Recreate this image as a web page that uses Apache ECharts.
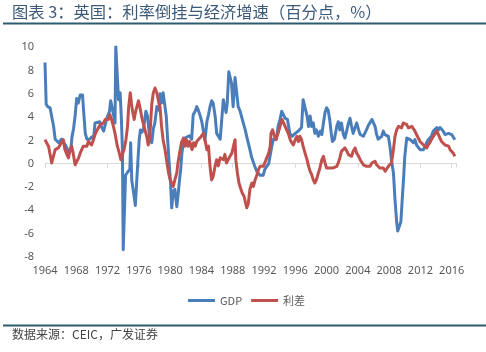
<!DOCTYPE html>
<html>
<head>
<meta charset="utf-8">
<script src="https://cdn.jsdelivr.net/npm/echarts@6/dist/echarts.min.js"></script>
<style>
html,body{margin:0;padding:0;background:#fff;}
#chart{width:486px;height:352px;}
</style>
</head>
<body>
<div id="chart"></div>
<script>
var titleText = '图表 3：英国：利率倒挂与经济增速（百分点，%）';
var sourceText = '数据来源：CEIC，广发证券';
var seriesNames = ['GDP', '利差'];
var yTicks = [-8, -6, -4, -2, 0, 2, 4, 6, 8, 10];
var xTickYears = [1964, 1968, 1972, 1976, 1980, 1984, 1988, 1992, 1996, 2000, 2004, 2008, 2012, 2016];

var gdpYears = [1964.0,1964.15,1964.35,1964.65,1964.9,1965.1,1965.3,1965.5,1965.75,1966.1,1966.35,1966.6,1966.8,1967.1,1967.3,1967.45,1967.65,1967.85,1968.05,1968.25,1968.5,1968.8,1968.95,1969.15,1969.35,1969.7,1970.0,1970.2,1970.4,1970.6,1971.0,1971.25,1971.5,1971.9,1972.25,1972.4,1972.65,1972.95,1973.05,1973.25,1973.4,1973.6,1973.75,1973.9,1974.0,1974.15,1974.3,1974.6,1974.85,1974.95,1975.1,1975.35,1975.55,1975.75,1975.9,1976.05,1976.2,1976.4,1976.6,1976.9,1977.1,1977.4,1977.65,1977.85,1978.05,1978.3,1978.55,1978.7,1978.9,1979.1,1979.35,1979.5,1979.65,1979.9,1980.05,1980.2,1980.4,1980.6,1980.85,1981.0,1981.2,1981.35,1981.5,1981.7,1981.9,1982.1,1982.45,1982.75,1982.95,1983.2,1983.4,1983.6,1983.85,1984.05,1984.25,1984.45,1984.7,1984.9,1985.1,1985.3,1985.5,1985.75,1985.95,1986.2,1986.4,1986.6,1986.8,1987.0,1987.15,1987.3,1987.5,1987.65,1987.85,1988.05,1988.3,1988.5,1988.7,1988.95,1989.15,1989.35,1989.6,1989.8,1990.0,1990.2,1990.4,1990.8,1991.1,1991.5,1991.9,1992.1,1992.4,1992.6,1992.8,1993.0,1993.2,1993.6,1993.8,1994.05,1994.27,1994.5,1994.7,1995.0,1995.3,1995.6,1996.0,1996.4,1996.8,1997.0,1997.25,1997.5,1997.7,1997.9,1998.1,1998.3,1998.5,1998.7,1998.95,1999.2,1999.4,1999.6,1999.8,2000.0,2000.2,2000.4,2000.6,2000.75,2001.0,2001.3,2001.5,2001.7,2001.9,2002.15,2002.35,2002.6,2002.8,2003.0,2003.2,2003.4,2003.65,2003.85,2004.1,2004.3,2004.7,2004.9,2005.1,2005.35,2005.55,2005.8,2006.0,2006.2,2006.4,2006.6,2006.85,2007.05,2007.25,2007.45,2007.7,2007.9,2008.1,2008.3,2008.55,2008.75,2008.96,2009.1,2009.3,2009.5,2009.7,2009.86,2010.0,2010.25,2010.46,2010.7,2010.9,2011.1,2011.3,2011.5,2011.7,2011.95,2012.15,2012.4,2012.6,2012.8,2013.0,2013.2,2013.4,2013.65,2013.9,2014.1,2014.3,2014.5,2014.7,2014.9,2015.15,2015.35,2015.6,2015.8,2016.0,2016.2,2016.4];
var gdpValues = [8.7,5.1,4.9,4.8,3.9,3.2,2.1,2.0,1.8,2.1,2.2,1.6,1.5,0.9,1.2,2.3,3.0,4.1,5.6,5.2,5.9,5.9,4.4,2.6,2.1,2.1,2.3,2.1,3.5,3.6,3.6,3.1,2.8,3.9,4.5,5.4,4.6,3.5,10.1,10.1,5.5,6.1,4.1,1.2,-7.4,-7.4,-1.0,-0.7,-0.5,1.8,-1.5,-2.6,-3.6,-3.6,0.5,2.1,2.9,2.7,3.0,4.5,4.1,2.1,1.8,3.0,3.5,4.9,4.6,6.0,5.2,6.1,6.1,4.1,2.4,-0.2,-1.6,-3.8,-2.4,-2.2,-3.7,-2.8,-1.4,-0.5,0.9,1.8,2.2,2.1,2.4,2.1,4.2,4.5,4.9,4.6,4.1,3.6,2.8,2.0,3.6,4.2,4.9,5.4,5.2,4.1,2.6,2.5,2.1,3.8,5.5,5.6,4.4,5.2,7.9,7.8,6.9,4.9,7.4,7.4,4.9,4.5,4.5,3.5,2.9,2.3,2.3,1.2,0.6,-0.2,-0.7,-1.0,-1.0,-0.5,-0.2,0.0,0.1,1.5,2.1,2.1,3.2,3.8,4.5,4.5,3.9,3.8,2.6,2.35,2.6,2.8,3.1,5.5,5.5,4.1,3.2,4.1,3.2,3.5,2.6,2.9,2.35,2.8,2.5,3.5,4.4,4.8,4.6,3.8,2.6,1.9,2.1,3.2,3.6,2.9,3.5,2.5,2.2,2.9,3.5,3.9,3.2,2.6,3.1,3.5,2.9,2.5,2.35,2.35,2.9,3.3,3.2,3.8,3.9,3.2,2.5,2.1,2.2,2.35,2.8,2.5,2.6,2.35,1.5,0.3,-0.8,-3.1,-5.0,-5.8,-5.8,-5.0,-2.8,-1.1,0.6,2.2,2.35,2.06,1.9,1.8,2.06,1.6,1.5,1.2,1.35,1.2,1.5,1.8,2.06,1.9,2.35,2.8,2.8,3.1,2.9,3.1,3.1,2.8,2.5,2.35,2.6,2.5,2.5,2.35,2.06];

var spreadYears = [1964.0,1964.2,1964.45,1964.65,1964.86,1965.08,1965.3,1965.5,1965.7,1965.9,1966.1,1966.35,1966.55,1966.8,1967.0,1967.2,1967.4,1967.6,1967.85,1968.05,1968.3,1968.5,1968.7,1968.9,1969.1,1969.35,1969.55,1969.75,1969.95,1970.2,1970.4,1970.6,1970.8,1971.05,1971.25,1971.5,1971.7,1971.9,1972.1,1972.3,1972.5,1972.75,1972.95,1973.1,1973.25,1973.5,1973.7,1973.9,1974.1,1974.35,1974.55,1974.7,1974.9,1975.05,1975.2,1975.4,1975.56,1975.75,1975.95,1976.15,1976.4,1976.6,1976.8,1977.0,1977.2,1977.4,1977.65,1977.85,1978.07,1978.3,1978.5,1978.7,1978.9,1979.1,1979.35,1979.6,1979.8,1980.0,1980.2,1980.4,1980.6,1980.85,1981.0,1981.2,1981.45,1981.7,1981.9,1982.1,1982.3,1982.5,1982.8,1983.0,1983.2,1983.4,1983.6,1983.8,1984.05,1984.25,1984.45,1984.7,1984.9,1985.1,1985.3,1985.5,1985.75,1985.95,1986.15,1986.4,1986.6,1986.8,1987.0,1987.2,1987.45,1987.65,1987.9,1988.1,1988.3,1988.4,1988.6,1988.8,1989.0,1989.2,1989.45,1989.65,1989.8,1990.0,1990.2,1990.45,1990.65,1990.86,1991.1,1991.3,1991.5,1991.7,1991.9,1992.1,1992.35,1992.6,1992.8,1992.9,1993.1,1993.3,1993.5,1993.65,1993.8,1994.05,1994.3,1994.5,1994.7,1994.9,1995.1,1995.35,1995.55,1995.75,1996.0,1996.2,1996.4,1996.6,1996.8,1997.0,1997.25,1997.5,1997.7,1997.9,1998.1,1998.3,1998.5,1998.7,1998.95,1999.15,1999.4,1999.6,1999.8,2000.0,2000.2,2000.45,2000.65,2000.85,2001.1,2001.3,2001.5,2001.7,2001.9,2002.15,2002.35,2002.6,2002.8,2003.0,2003.2,2003.4,2003.65,2003.85,2004.1,2004.3,2004.5,2004.7,2004.9,2005.1,2005.35,2005.55,2005.8,2006.0,2006.2,2006.4,2006.6,2006.8,2007.05,2007.25,2007.5,2007.7,2007.9,2008.1,2008.3,2008.55,2008.75,2008.96,2009.2,2009.4,2009.6,2009.8,2010.0,2010.25,2010.46,2010.7,2010.9,2011.1,2011.3,2011.5,2011.7,2011.95,2012.15,2012.4,2012.6,2012.8,2013.0,2013.2,2013.4,2013.65,2013.9,2014.1,2014.3,2014.5,2014.7,2014.9,2015.15,2015.35,2015.6,2015.8,2016.0,2016.2,2016.4];
var spreadValues = [2.06,1.8,1.5,1.5,0.06,-0.1,1.2,1.1,1.35,1.2,1.8,2.06,1.2,0.8,0.5,1.2,1.5,0.9,-0.1,0.06,0.5,0.9,1.2,1.5,1.6,1.5,1.9,1.8,1.6,2.06,2.5,2.8,2.9,3.35,3.2,3.5,3.8,3.9,3.8,4.2,3.8,3.2,2.6,2.06,1.5,0.9,0.34,0.5,1.2,2.06,3.2,4.9,6.1,5.2,4.5,3.8,4.4,4.5,5.4,4.8,3.9,3.35,3.2,2.35,1.6,2.35,5.1,6.1,6.5,6.1,5.4,4.9,3.2,2.06,1.2,0.06,-0.8,-1.4,-1.66,-1.95,-1.4,-0.8,0.06,0.9,1.8,2.2,1.5,2.06,1.5,1.9,1.2,1.8,1.5,1.9,1.8,2.2,2.06,2.6,2.06,1.2,1.5,-0.23,-1.4,-1.1,-0.2,0.34,-0.2,0.5,0.63,0.34,0.8,0.06,0.2,0.63,0.9,1.5,2.06,0.3,-0.8,-1.66,-2.1,-2.5,-2.8,-3.4,-3.8,-3.4,-2.2,-1.66,-1.95,-1.4,-0.95,-0.5,-0.23,-0.1,-0.23,0.06,0.5,0.9,1.5,2.6,2.9,2.8,2.06,2.35,2.6,3.2,3.8,3.7,3.2,2.9,2.6,2.06,1.8,1.6,2.06,2.35,1.9,2.35,2.06,1.5,0.9,0.34,-0.23,-0.66,-0.95,-1.4,-1.66,-1.4,-0.8,-0.37,0.34,0.63,0.06,-0.37,-0.52,-0.37,-0.52,-0.37,-0.52,-0.23,0.06,0.5,1.06,1.2,1.35,1.06,0.77,0.9,0.63,1.06,1.35,0.9,0.63,0.34,0.2,-0.1,0.06,-0.23,-0.1,-0.23,0.06,-0.1,0.2,-0.1,-0.23,-0.37,-0.23,-0.37,-0.66,-0.52,-0.23,-0.37,0.06,1.2,2.35,2.9,3.2,3.35,3.07,3.5,3.5,3.35,3.07,2.9,3.2,3.07,2.8,2.5,2.35,1.9,1.78,1.6,1.49,1.35,1.6,1.8,2.06,2.35,2.6,2.8,2.5,2.2,1.9,1.8,1.6,1.5,1.5,1.2,1.06,0.9,0.63];

function pairs(xs, ys) { return xs.map(function (x, i) { return [x, ys[i]]; }); }

var chart = echarts.init(document.getElementById('chart'), null, { renderer: 'canvas' });
var xMin = xTickYears[0];
var xMax = 2016.6;
var labelFont = { color: '#595959', fontSize: 11, fontFamily: 'Noto Sans, sans-serif' };

chart.setOption({
  animation: false,
  backgroundColor: '#ffffff',
  grid: { left: 45, right: 29.6, top: 47.3, bottom: 95.3, containLabel: false },
  legend: {
    data: seriesNames,
    left: 183, top: 290,
    icon: 'rect', itemWidth: 27, itemHeight: 3, itemGap: 9,
    textStyle: { color: '#595959', fontSize: 11, fontFamily: 'Noto Sans CJK SC, Noto Sans, sans-serif' }
  },
  xAxis: [
    {
      type: 'value', min: xMin, max: xMax, interval: 4,
      axisLine: { show: false, onZero: false },
      axisTick: { show: false },
      splitLine: { show: false },
      axisLabel: Object.assign({
        margin: 9, showMaxLabel: false,
        formatter: function (v) { return xTickYears.indexOf(v) >= 0 ? String(v) : ''; }
      }, labelFont)
    },
    {
      type: 'value', min: xMin, max: xMax, interval: 4, position: 'bottom',
      axisLine: { show: true, onZero: true, onZeroAxisIndex: 0, lineStyle: { color: '#d9d9d9', width: 1 } },
      axisTick: { show: true, length: 4, lineStyle: { color: '#d9d9d9' } },
      axisLabel: { show: false },
      splitLine: { show: false }
    }
  ],
  yAxis: {
    type: 'value', min: yTicks[0], max: yTicks[yTicks.length - 1], interval: 2,
    axisLine: { show: false }, axisTick: { show: false }, splitLine: { show: false },
    axisLabel: Object.assign({ margin: 11 }, labelFont)
  },
  series: [
    {
      name: seriesNames[0], type: 'line', data: pairs(gdpYears, gdpValues),
      showSymbol: false, symbol: 'none', xAxisIndex: 0,
      lineStyle: { color: '#4a7ebb', width: 3, join: 'round' },
      itemStyle: { color: '#4a7ebb' }
    },
    {
      name: seriesNames[1], type: 'line', data: pairs(spreadYears, spreadValues),
      showSymbol: false, symbol: 'none', xAxisIndex: 0,
      lineStyle: { color: '#c0504d', width: 3, join: 'round' },
      itemStyle: { color: '#c0504d' }
    }
  ],
  graphic: [
    { type: 'text', left: 12, top: 4, style: { text: titleText, fill: '#3c5a78', font: '16.3px "Noto Sans CJK SC", sans-serif' } },
    { type: 'rect', shape: { x: 3, y: 22.5, width: 483, height: 2 }, style: { fill: '#2d5c6e' } },
    { type: 'rect', shape: { x: 3, y: 324.5, width: 483, height: 2 }, style: { fill: '#2d5c6e' } },
    { type: 'text', left: 12, top: 328, style: { text: sourceText, fill: '#444444', font: '12px "Noto Sans CJK SC", sans-serif' } }
  ]
});
</script>
</body>
</html>
